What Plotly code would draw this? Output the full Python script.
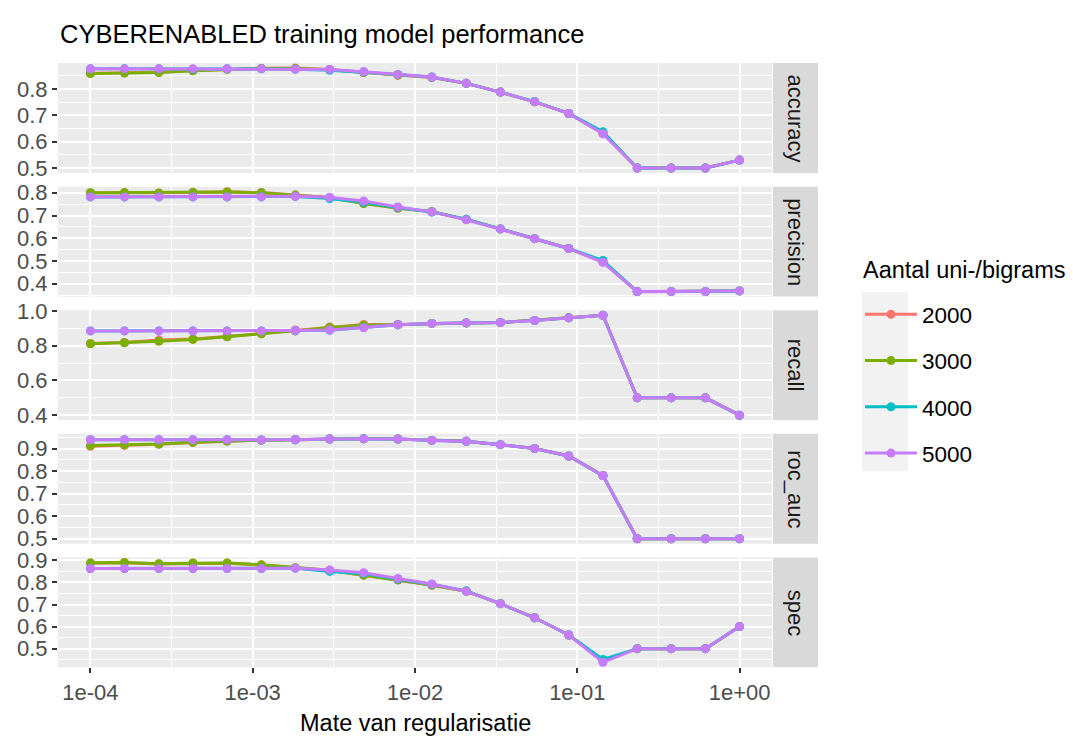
import plotly.graph_objects as go

penalty = [1e-4, 1.62e-4, 2.64e-4, 4.28e-4, 6.95e-4, 1.13e-3, 1.83e-3, 2.98e-3, 4.83e-3, 7.85e-3,
           1.27e-2, 2.07e-2, 3.36e-2, 5.46e-2, 8.86e-2, 0.144, 0.234, 0.379, 0.616, 1.0]

metrics = ["accuracy", "precision", "recall", "roc_auc", "spec"]
series_names = ["2000", "3000", "4000", "5000"]
colors = ["#F8766D", "#7CAE00", "#00BFC4", "#C77CFF"]

accuracy_2000 = [0.859, 0.861, 0.863, 0.870, 0.875, 0.878, 0.879, 0.874, 0.862, 0.852, 0.843, 0.821, 0.788, 0.751, 0.707, 0.631, 0.500, 0.500, 0.500, 0.530]
accuracy_3000 = [0.858, 0.860, 0.862, 0.869, 0.874, 0.877, 0.877, 0.873, 0.863, 0.853, 0.844, 0.821, 0.788, 0.751, 0.707, 0.632, 0.500, 0.500, 0.500, 0.530]
accuracy_4000 = [0.876, 0.876, 0.876, 0.875, 0.876, 0.876, 0.875, 0.871, 0.864, 0.855, 0.845, 0.821, 0.788, 0.752, 0.707, 0.638, 0.500, 0.500, 0.500, 0.530]
accuracy_5000 = [0.876, 0.876, 0.876, 0.876, 0.876, 0.876, 0.875, 0.874, 0.865, 0.855, 0.845, 0.821, 0.788, 0.751, 0.707, 0.630, 0.500, 0.500, 0.500, 0.530]

precision_2000 = [0.799, 0.800, 0.798, 0.801, 0.805, 0.801, 0.790, 0.779, 0.754, 0.732, 0.718, 0.682, 0.641, 0.598, 0.555, 0.495, 0.365, 0.365, 0.365, 0.368]
precision_3000 = [0.800, 0.801, 0.799, 0.802, 0.803, 0.800, 0.790, 0.778, 0.753, 0.733, 0.717, 0.683, 0.641, 0.598, 0.555, 0.496, 0.365, 0.365, 0.365, 0.368]
precision_4000 = [0.782, 0.782, 0.782, 0.782, 0.782, 0.783, 0.784, 0.775, 0.758, 0.735, 0.715, 0.684, 0.641, 0.598, 0.555, 0.502, 0.365, 0.365, 0.365, 0.368]
precision_5000 = [0.782, 0.782, 0.782, 0.782, 0.782, 0.782, 0.785, 0.780, 0.764, 0.738, 0.716, 0.681, 0.641, 0.598, 0.555, 0.494, 0.365, 0.365, 0.365, 0.368]

recall_2000 = [0.812, 0.818, 0.832, 0.838, 0.853, 0.870, 0.890, 0.908, 0.922, 0.922, 0.928, 0.931, 0.933, 0.945, 0.960, 0.975, 0.500, 0.500, 0.500, 0.400]
recall_3000 = [0.811, 0.817, 0.825, 0.836, 0.851, 0.868, 0.885, 0.905, 0.918, 0.921, 0.928, 0.931, 0.933, 0.945, 0.960, 0.975, 0.500, 0.500, 0.500, 0.400]
recall_4000 = [0.885, 0.885, 0.885, 0.885, 0.885, 0.885, 0.886, 0.889, 0.905, 0.920, 0.928, 0.931, 0.933, 0.945, 0.960, 0.975, 0.500, 0.500, 0.500, 0.400]
recall_5000 = [0.885, 0.885, 0.885, 0.885, 0.885, 0.885, 0.887, 0.890, 0.903, 0.920, 0.928, 0.931, 0.933, 0.945, 0.960, 0.975, 0.500, 0.500, 0.500, 0.400]

roc_auc_2000 = [0.910, 0.914, 0.919, 0.927, 0.933, 0.937, 0.940, 0.942, 0.943, 0.942, 0.936, 0.932, 0.917, 0.900, 0.867, 0.780, 0.500, 0.500, 0.500, 0.500]
roc_auc_3000 = [0.913, 0.916, 0.920, 0.928, 0.933, 0.937, 0.939, 0.942, 0.943, 0.942, 0.936, 0.932, 0.917, 0.900, 0.867, 0.780, 0.500, 0.500, 0.500, 0.500]
roc_auc_4000 = [0.939, 0.939, 0.939, 0.939, 0.939, 0.938, 0.939, 0.942, 0.943, 0.942, 0.936, 0.932, 0.917, 0.900, 0.867, 0.780, 0.500, 0.500, 0.500, 0.500]
roc_auc_5000 = [0.939, 0.939, 0.939, 0.939, 0.939, 0.938, 0.939, 0.942, 0.943, 0.942, 0.936, 0.932, 0.917, 0.900, 0.867, 0.780, 0.500, 0.500, 0.500, 0.500]

spec_2000 = [0.887, 0.889, 0.884, 0.887, 0.887, 0.879, 0.866, 0.854, 0.833, 0.811, 0.787, 0.760, 0.704, 0.640, 0.562, 0.445, 0.500, 0.500, 0.500, 0.600]
spec_3000 = [0.889, 0.891, 0.885, 0.888, 0.888, 0.880, 0.867, 0.855, 0.833, 0.812, 0.788, 0.760, 0.704, 0.640, 0.562, 0.445, 0.500, 0.500, 0.500, 0.600]
spec_4000 = [0.863, 0.863, 0.863, 0.863, 0.863, 0.863, 0.865, 0.850, 0.840, 0.815, 0.792, 0.762, 0.704, 0.640, 0.562, 0.451, 0.500, 0.500, 0.500, 0.600]
spec_5000 = [0.863, 0.863, 0.863, 0.863, 0.863, 0.863, 0.865, 0.857, 0.844, 0.818, 0.793, 0.760, 0.704, 0.640, 0.562, 0.438, 0.500, 0.500, 0.500, 0.600]

x_tickvals = [1e-4, 1e-3, 1e-2, 1e-1, 1.0]
x_ticktext = ["1e-04", "1e-03", "1e-02", "1e-01", "1e+00"]

data = {
    "accuracy": [accuracy_2000, accuracy_3000, accuracy_4000, accuracy_5000],
    "precision": [precision_2000, precision_3000, precision_4000, precision_5000],
    "recall": [recall_2000, recall_3000, recall_4000, recall_5000],
    "roc_auc": [roc_auc_2000, roc_auc_3000, roc_auc_4000, roc_auc_5000],
    "spec": [spec_2000, spec_3000, spec_4000, spec_5000],
}

W, H = 1073, 742
FONT = "Liberation Sans, Arial, sans-serif"
panel_left, panel_right = 58, 772
strip_left, strip_right = 773, 818
panel_h, gap, top0 = 113, 14, 52.5

fig = go.Figure()
layout = dict(
    width=W, height=H,
    margin=dict(l=0, r=0, t=0, b=0),
    paper_bgcolor="white", plot_bgcolor="#EBEBEB",
    font=dict(family=FONT, color="#4D4D4D"),
    showlegend=True,
)
shapes = []
annotations = []

for i, m in enumerate(metrics):
    idx = "" if i == 0 else str(i + 1)
    top = top0 + i * (panel_h + gap)
    bot = top + panel_h
    ydom = [1 - bot / H, 1 - top / H]
    all_vals = [v for s in data[m] for v in s]
    lo, hi = min(all_vals), max(all_vals)
    pad = (hi - lo) * 0.05
    dt = 0.2 if m == "recall" else 0.1
    for j, name in enumerate(series_names):
        fig.add_trace(go.Scatter(
            x=penalty, y=data[m][j], mode="lines+markers", name=name,
            legendgroup=name, showlegend=(i == 0),
            line=dict(color=colors[j], width=3),
            marker=dict(color=colors[j], size=9),
            xaxis="x" + idx, yaxis="y" + idx,
        ))
    last = (i == len(metrics) - 1)
    layout["xaxis" + idx] = dict(
        type="log", domain=[panel_left / W, panel_right / W],
        range=[-4.2, 0.2], anchor="y" + idx,
        tickvals=x_tickvals, ticktext=x_ticktext if last else [""] * 5,
        showticklabels=last,
        ticks="outside" if last else "", ticklen=5, tickwidth=1.5, tickcolor="#333333",
        tickfont=dict(size=22, color="#4D4D4D", family=FONT),
        showgrid=True, gridcolor="white", gridwidth=2,
        minor=dict(dtick=0.5, tick0=0, showgrid=True, gridcolor="white", gridwidth=1, ticks=""),
        zeroline=False, showline=False,
        matches=None if i == 0 else "x",
    )
    layout["yaxis" + idx] = dict(
        domain=ydom, range=[lo - pad, hi + pad], anchor="x" + idx,
        dtick=dt, tick0=0, tickformat=".1f",
        ticks="outside", ticklen=5, tickwidth=1.5, tickcolor="#333333",
        tickfont=dict(size=22, color="#4D4D4D", family=FONT),
        showgrid=True, gridcolor="white", gridwidth=2,
        minor=dict(dtick=dt / 2, tick0=0, showgrid=True, gridcolor="white", gridwidth=1, ticks=""),
        zeroline=False, showline=False,
    )
    yref_dom = ("y" + idx + " domain") if idx else "y domain"
    shapes.append(dict(type="rect", xref="paper", yref=yref_dom,
                       x0=strip_left / W, x1=strip_right / W, y0=0, y1=1,
                       fillcolor="#D9D9D9", line=dict(width=0), layer="below"))
    annotations.append(dict(text=m, xref="paper", yref=yref_dom,
                            x=(strip_left + strip_right) / 2 / W, y=0.5, showarrow=False,
                            textangle=90, xanchor="center", yanchor="middle",
                            font=dict(size=22, color="#1A1A1A", family=FONT)))

# title
annotations.append(dict(text="CYBERENABLED training model performance", xref="paper", yref="paper",
                        x=panel_left / W, y=1 - 23 / H, xanchor="left", yanchor="middle",
                        showarrow=False, font=dict(size=25.5, color="black", family=FONT)))
# x axis title
annotations.append(dict(text="Mate van regularisatie", xref="paper", yref="paper",
                        x=(panel_left + panel_right) / 2 / W, y=1 - 731 / H, xanchor="center",
                        yanchor="middle", showarrow=False,
                        font=dict(size=23.5, color="black", family=FONT)))
# legend title
annotations.append(dict(text="Aantal uni-/bigrams", xref="paper", yref="paper",
                        x=861 / W, y=1 - 265 / H, xanchor="left", yanchor="middle",
                        showarrow=False, font=dict(size=23.5, color="black", family=FONT)))

# legend key background
shapes.append(dict(type="rect", xref="paper", yref="paper", x0=862 / W, x1=908 / W,
                   y0=1 - 472 / H, y1=1 - 288 / H, fillcolor="#F2F2F2",
                   line=dict(width=0), layer="below"))

layout["shapes"] = shapes
layout["annotations"] = annotations
layout["legend"] = dict(
    x=860 / W, xanchor="left", y=1 - 289 / H, yanchor="top",
    font=dict(size=22.5, color="black", family=FONT),
    traceorder="grouped", tracegroupgap=14, bgcolor="rgba(0,0,0,0)", itemwidth=52,
)
fig.update_layout(**layout)
fig.write_html("out.html")
